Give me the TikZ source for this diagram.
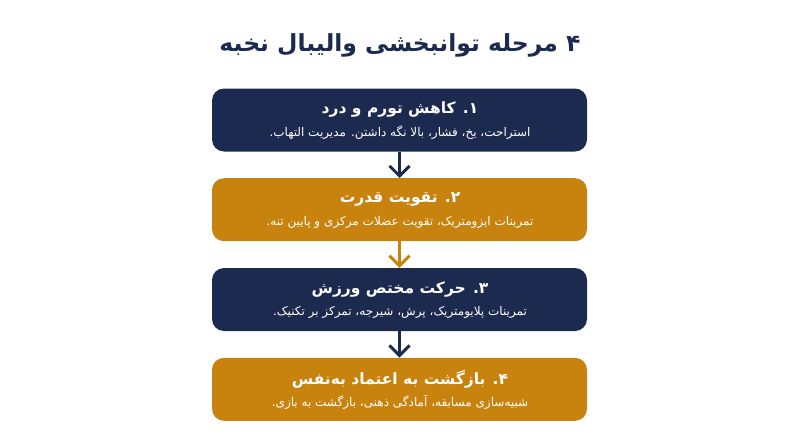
\documentclass[tikz,border=0pt]{standalone}
\usepackage{fontspec}
\newfontfamily\arabicfont[Script=Arabic]{DejaVu Sans}
\TeXXeTstate=1
\usetikzlibrary{arrows.meta}
\definecolor{navy}{HTML}{1B2A4E}
\definecolor{gold}{HTML}{C8820E}
\tikzset{
  stagebox/.style={draw=none, rounded corners=12pt, minimum width=375pt, minimum height=63pt, inner sep=0pt},
  headtext/.style={text=white, inner sep=0pt, font=\arabicfont\bfseries\fontsize{15.5}{18}\selectfont},
  subtext/.style={text=white, inner sep=0pt, font=\arabicfont\fontsize{12}{14}\selectfont},
  titletext/.style={text=navy, inner sep=0pt, font=\arabicfont\bfseries\fontsize{23.5}{28}\selectfont},
  flowarrow/.style={line width=3pt, -{Straight Barb[length=10pt,width=20pt,line width=3pt]}},
}
\begin{document}
\begin{tikzpicture}[x=1pt,y=-1pt]
\useasboundingbox[fill=white] (0,0) rectangle (800,447);
\node[titletext] (title) at (400,45) {\beginR ۴ مرحله توانبخشی والیبال نخبه\endR};

\node[stagebox, fill=navy] (b1) at (399.5,120) {};
\node[stagebox, fill=gold] (b2) at (399.5,209.7) {};
\node[stagebox, fill=navy] (b3) at (399.5,299.5) {};
\node[stagebox, fill=gold] (b4) at (399.5,389.3) {};

\node[headtext] (h1) at (400,110) {\beginR ۱. کاهش تورم و درد\endR};
\node[subtext] (s1) at (400,133) {\beginR استراحت، یخ، فشار، بالا نگه داشتن. مدیریت التهاب.\endR};
\node[headtext] (h2) at (400,199.7) {\beginR ۲. تقویت قدرت\endR};
\node[subtext] (s2) at (400,222.7) {\beginR تمرینات ایزومتریک، تقویت عضلات مرکزی و پایین تنه.\endR};
\node[headtext] (h3) at (400,289.5) {\beginR ۳. حرکت مختص ورزش\endR};
\node[subtext] (s3) at (400,312.5) {\beginR تمرینات پلایومتریک، پرش، شیرجه، تمرکز بر تکنیک.\endR};
\node[headtext] (h4) at (400,379.3) {\beginR ۴. بازگشت به اعتماد به‌نفس\endR};
\node[subtext] (s4) at (400,402.3) {\beginR شبیه‌سازی مسابقه، آمادگی ذهنی، بازگشت به بازی.\endR};

\draw[flowarrow, navy] (b1.south) -- (b2.north);
\draw[flowarrow, gold] (b2.south) -- (b3.north);
\draw[flowarrow, navy] (b3.south) -- (b4.north);
\end{tikzpicture}
\end{document}
